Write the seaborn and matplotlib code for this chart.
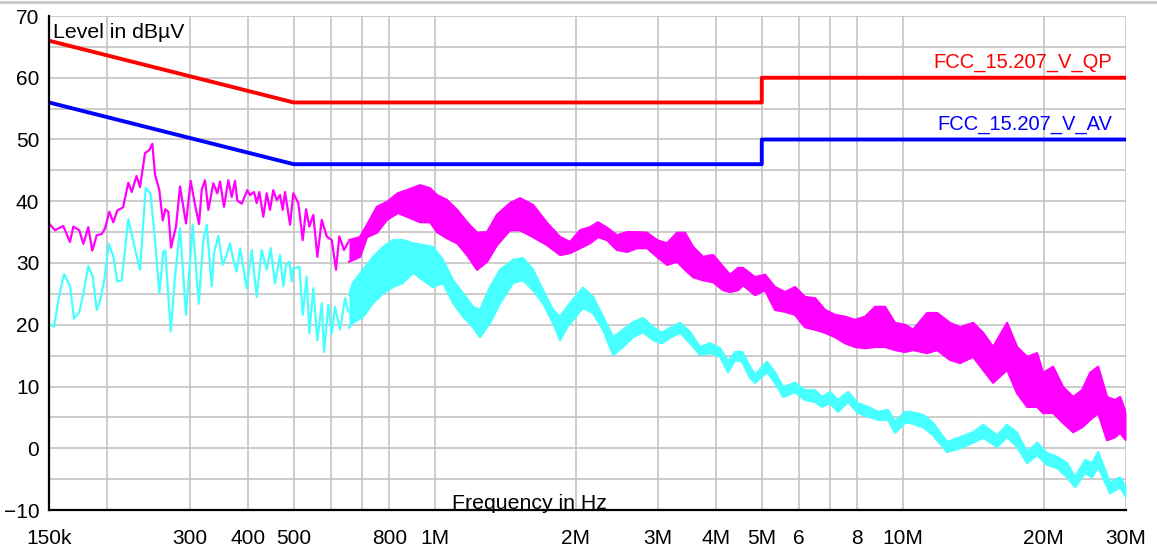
import matplotlib
matplotlib.use("Agg")
import matplotlib.pyplot as plt
from matplotlib.ticker import FixedLocator, FixedFormatter, NullLocator, MultipleLocator
from matplotlib.lines import Line2D
import seaborn as sns

# FCC 15.207 conducted emission limits (frequency in kHz, level in dBµV)
qp_limit_khz = [150, 500, 5000, 5000, 30000]
qp_limit_db = [66, 56, 56, 60, 60]
av_limit_khz = [150, 500, 5000, 5000, 30000]
av_limit_db = [56, 46, 46, 50, 50]

# Peak detector sweep, 150 kHz .. 650 kHz (individual sweep points)
peak_khz = [150, 154.5, 160.9, 166.3, 169.1, 174.1, 177.6, 182.0, 185.6, 189.7,
            194.4, 197.6, 201.8, 205.8, 209.9, 215.9, 221.6, 225.3, 230.7, 234.7,
            240.6, 245.7, 249.4, 252.7, 258.1, 262.5, 265.8, 269.8, 273.4, 280.2,
            285.8, 294.3, 301.2, 307.7, 313.8, 318.0, 323.2, 328.5, 336.6, 343.3,
            347.9, 354.8, 362.4, 368.5, 374.5, 378.8, 387.1, 397.9, 403.2, 411.2,
            416.7, 422.1, 430.5, 437.8, 444.9, 452.2, 459.9, 467.4, 473.6, 479.0,
            491.0, 499.0, 511.4, 522.6, 531.2, 539.9, 550.6, 561.6, 573.9, 588.1,
            602.8, 615.6, 625.7, 640.3, 654.0]
peak_db = [36.4, 35.3, 36.0, 33.4, 35.9, 35.3, 33.1, 35.8, 32.0, 34.5,
           34.7, 35.6, 38.3, 36.6, 38.5, 39.0, 43.0, 41.5, 44.1, 42.3,
           47.8, 48.3, 49.3, 44.3, 41.8, 36.9, 38.7, 38.3, 32.5, 35.9,
           42.4, 36.4, 43.3, 39.4, 36.3, 41.9, 43.4, 38.6, 42.9, 41.3,
           43.2, 39.1, 43.4, 40.7, 43.3, 40.1, 39.6, 41.8, 41.0, 41.5,
           39.7, 41.5, 37.5, 41.3, 38.6, 41.8, 40.2, 41.0, 38.6, 41.5,
           36.2, 41.3, 39.7, 33.7, 38.7, 35.9, 37.8, 31.0, 37.0, 34.3,
           33.7, 28.9, 34.3, 32.1, 33.4]

# Peak detector sweep above 650 kHz: min / max envelope of the dense sweep
peak_band_khz = [656, 693, 717, 753, 791, 835, 873, 931, 978, 1012,
                 1063, 1117, 1173, 1232, 1294, 1359, 1449, 1522, 1623, 1738,
                 1854, 1947, 2045, 2148, 2235, 2336, 2453, 2577, 2707, 2844,
                 2987, 3138, 3296, 3428, 3566, 3746, 3935, 4133, 4278, 4449,
                 4560, 4837, 5081, 5337, 5607, 5889, 6186, 6498, 6826, 7170,
                 7532, 7912, 8311, 8730, 9170, 9632, 10118, 10525, 11275, 11843,
                 12628, 13265, 14141, 14853, 15602, 16714, 17557, 18443, 19373, 19954,
                 20961, 22018, 23128, 24175, 25146, 26155, 27339, 28436, 29143, 30000]
peak_band_hi = [33.7, 34.2, 36.2, 39.1, 39.9, 41.3, 41.8, 42.6, 42.1, 41.0,
                40.2, 38.6, 36.6, 34.9, 35.0, 37.8, 39.7, 40.5, 39.4, 36.5,
                34.2, 33.4, 35.3, 35.8, 36.6, 35.7, 34.5, 35.0, 35.0, 34.9,
                33.7, 33.2, 34.9, 34.9, 32.6, 31.0, 31.3, 29.4, 28.1, 29.2,
                29.2, 27.7, 28.1, 26.1, 25.3, 26.1, 24.5, 24.3, 22.4, 21.6,
                21.3, 20.8, 21.3, 22.9, 22.9, 20.3, 20.0, 19.2, 21.9, 21.9,
                20.3, 19.6, 20.3, 18.7, 16.4, 20.3, 16.4, 14.8, 15.4, 12.2,
                13.2, 9.9, 8.3, 9.4, 12.2, 13.2, 8.3, 7.8, 8.3, 5.7]
peak_band_lo = [30.2, 31.0, 34.2, 34.9, 37.0, 38.1, 37.5, 36.6, 36.6, 35.0,
                34.0, 33.2, 31.3, 28.9, 30.2, 32.9, 35.3, 35.3, 34.2, 32.9,
                31.3, 31.6, 32.4, 33.2, 34.2, 33.7, 32.1, 31.8, 32.4, 32.4,
                31.0, 29.7, 30.2, 28.9, 27.7, 27.2, 26.9, 25.6, 25.3, 25.6,
                26.4, 24.8, 25.6, 22.4, 22.1, 21.6, 19.6, 19.2, 18.7, 18.0,
                17.0, 16.4, 16.2, 16.4, 16.4, 15.9, 15.6, 15.9, 15.4, 15.9,
                14.3, 13.8, 14.8, 12.7, 10.6, 12.7, 8.9, 6.7, 6.7, 5.7,
                5.7, 4.1, 2.6, 3.4, 4.6, 5.7, 1.3, 1.8, 2.5, 1.3]

# Average detector sweep, 150 kHz .. 650 kHz
avg_khz = [150, 153.7, 157.8, 161.5, 166.3, 169.6, 174.1, 178.2, 182.0, 186.0,
           189.7, 192.8, 196.6, 201.2, 205.8, 209.9, 214.5, 221.6, 227.5, 234.7,
           241.4, 247.2, 252.7, 258.1, 263.2, 265.8, 273.0, 278.8, 285.8, 294.3,
           304.2, 313.3, 320.5, 325.9, 334.0, 337.8, 345.0, 352.5, 358.3, 365.4,
           371.4, 377.7, 383.9, 396.8, 406.6, 416.7, 427.1, 437.8, 446.5, 456.0,
           467.4, 475.0, 481.4, 489.3, 495.1, 499.0, 514.0, 522.6, 533.0, 539.9,
           550.6, 561.6, 573.9, 580.4, 592.8, 602.8, 612.6, 627.9, 643.5, 654.0]
avg_db = [20.1, 19.7, 24.8, 28.2, 26.3, 21.0, 22.0, 25.6, 29.5, 27.8,
          22.4, 23.8, 27.0, 33.1, 31.1, 27.0, 27.2, 37.1, 33.2, 28.9,
          42.2, 41.2, 33.7, 25.1, 31.8, 32.0, 18.9, 27.8, 35.6, 21.6,
          36.2, 23.4, 33.7, 36.2, 26.2, 31.6, 34.4, 29.7, 31.0, 33.2,
          30.5, 28.6, 32.4, 25.9, 32.1, 24.5, 32.1, 28.9, 32.4, 26.7,
          31.3, 26.2, 29.7, 30.2, 27.0, 29.1, 29.4, 21.6, 27.8, 18.6,
          25.9, 17.5, 23.5, 15.6, 23.2, 18.6, 22.9, 19.2, 24.3, 22.1]

# Average detector sweep above 650 kHz: min / max envelope
avg_band_khz = [656, 669, 703, 739, 776, 815, 856, 899, 945, 992,
                1042, 1095, 1150, 1208, 1250, 1313, 1380, 1471, 1545, 1623,
                1704, 1790, 1854, 1919, 2025, 2075, 2180, 2290, 2406, 2527,
                2654, 2788, 2929, 3061, 3184, 3345, 3514, 3691, 3877, 4072,
                4236, 4385, 4538, 4720, 4837, 5131, 5337, 5552, 5889, 6186,
                6498, 6726, 6996, 7277, 7644, 8029, 8435, 8860, 9307, 9632,
                10118, 10370, 11057, 11614, 12443, 13265, 14141, 14853, 15912, 16714,
                17557, 18443, 19373, 20351, 21378, 22455, 23357, 24535, 25395, 26155,
                27745, 29143, 30000]
avg_band_hi = [24.8, 26.8, 28.9, 31.0, 32.6, 33.7, 33.7, 33.2, 32.9, 32.6,
               30.5, 27.2, 25.1, 22.9, 22.4, 26.1, 28.9, 30.5, 30.8, 28.9,
               25.6, 22.4, 21.3, 22.9, 25.1, 26.0, 24.5, 21.3, 18.0, 19.2,
               20.4, 21.1, 19.6, 18.7, 19.5, 20.3, 18.8, 16.4, 17.0, 16.2,
               14.0, 15.6, 15.6, 13.2, 11.9, 14.0, 12.3, 9.9, 10.6, 9.4,
               9.4, 8.3, 9.1, 7.8, 9.1, 7.3, 6.7, 5.9, 6.2, 4.3,
               5.9, 5.9, 5.4, 4.1, 1.0, 1.8, 2.6, 3.8, 2.1, 3.8,
               2.5, -0.6, 0.9, -0.8, -1.4, -2.4, -4.7, -1.9, -2.4, -0.6,
               -5.6, -4.7, -6.3]
avg_band_lo = [19.5, 20.3, 21.3, 23.5, 25.1, 26.1, 26.8, 28.4, 27.2, 26.1,
               26.8, 23.5, 21.3, 19.6, 18.0, 20.3, 23.5, 26.8, 27.2, 25.6,
               23.5, 20.3, 17.5, 19.6, 21.8, 22.7, 21.9, 19.2, 15.1, 16.4,
               18.0, 18.8, 17.5, 17.0, 17.9, 18.7, 17.0, 15.1, 15.4, 14.8,
               12.3, 14.3, 14.0, 11.4, 10.6, 12.3, 10.6, 8.3, 9.1, 7.8,
               7.5, 6.7, 7.3, 5.9, 7.5, 5.7, 5.1, 4.6, 4.6, 2.5,
               4.1, 4.1, 3.4, 2.1, -0.6, 0.0, 0.9, 1.7, 0.2, 1.8,
               0.2, -2.4, -1.1, -2.7, -3.2, -4.7, -6.3, -4.0, -4.7, -3.0,
               -7.3, -6.3, -7.9]

# Frequency axis ticks (kHz) and their labels
tick_khz = [150, 200, 300, 400, 500, 600, 700, 800, 1000, 2000, 3000, 4000,
            5000, 6000, 7000, 8000, 10000, 20000, 30000]
tick_labels = ["150k", "", "300", "400", "500", "", "", "800", "1M", "2M", "3M",
               "4M", "5M", "6", "", "8", "10M", "20M", "30M"]

PEAK_COLOR = "#ff00ff"
AVG_COLOR = "#48ffff"
QP_COLOR = "#ff0000"
AV_COLOR = "#0000ff"
GRID_COLOR = "#c4c4c4"

sns.set_theme(style="white")
plt.rcParams["font.family"] = ["Liberation Sans", "DejaVu Sans"]

fig = plt.figure(figsize=(11.57, 5.52), dpi=100)
ax = fig.add_axes([49 / 1157, 1 - 510 / 552, 1077 / 1157, 494 / 552])
ax.set_xscale("log")


def trace(x, y, color, width, z):
    sns.lineplot(x=x, y=y, color=color, ax=ax, estimator=None, sort=False,
                 linewidth=width, zorder=z)


def band(x, lo, hi, color, z):
    ax.fill_between(x, lo, hi, color=color, linewidth=0, zorder=z)
    trace(x, lo, color, 1.6, z)
    trace(x, hi, color, 1.6, z)


# average detector
trace(avg_khz, avg_db, AVG_COLOR, 1.6, 2)
band(avg_band_khz, avg_band_lo, avg_band_hi, AVG_COLOR, 2)

# peak detector
trace(peak_khz, peak_db, PEAK_COLOR, 1.6, 3)
band(peak_band_khz, peak_band_lo, peak_band_hi, PEAK_COLOR, 3)

# limit lines
trace(qp_limit_khz, qp_limit_db, QP_COLOR, 2.8, 5)
trace(av_limit_khz, av_limit_db, AV_COLOR, 2.8, 5)

ax.set_xlim(150, 30000)
ax.set_ylim(-10, 70)

ax.xaxis.set_major_locator(FixedLocator(tick_khz))
ax.xaxis.set_major_formatter(FixedFormatter(tick_labels))
ax.xaxis.set_minor_locator(NullLocator())
ax.yaxis.set_major_locator(MultipleLocator(10))
ax.yaxis.set_minor_locator(MultipleLocator(5))

ax.set_axisbelow(True)
ax.grid(True, which="major", axis="both", color=GRID_COLOR, linewidth=1.2)
ax.grid(True, which="minor", axis="y", color=GRID_COLOR, linewidth=1.2)

for side in ("top", "right"):
    ax.spines[side].set_visible(False)
for side in ("left", "bottom"):
    ax.spines[side].set_color("black")
    ax.spines[side].set_linewidth(1.6)
    ax.spines[side].set_zorder(6)

ax.tick_params(axis="both", which="both", direction="inout", length=8,
               width=1.4, color="black", labelsize=15, labelcolor="black")
ax.tick_params(axis="x", which="both", pad=10)
ax.tick_params(axis="y", which="both", pad=3)
ax.set_xlabel("")
ax.set_ylabel("")

ax.text(0.0037, 0.9555, "Level in dBµV", transform=ax.transAxes,
        fontsize=15.3, ha="left", va="baseline", color="black", zorder=7)
ax.text(0.3742, 0.003, "Frequency in Hz", transform=ax.transAxes,
        fontsize=15.3, ha="left", va="baseline", color="black", zorder=7)
ax.text(0.987, 0.8947, "FCC_15.207_V_QP", transform=ax.transAxes,
        fontsize=14.5, ha="right", va="baseline", color=QP_COLOR, zorder=7)
ax.text(0.987, 0.7702, "FCC_15.207_V_AV", transform=ax.transAxes,
        fontsize=14.5, ha="right", va="baseline", color=AV_COLOR, zorder=7)

# thin frame line along the top edge of the figure
fig.add_artist(Line2D([0, 1], [1 - 1.5 / 552] * 2, transform=fig.transFigure,
                      color="#c8c8c8", linewidth=2))

fig.savefig("out.png", dpi=100)
